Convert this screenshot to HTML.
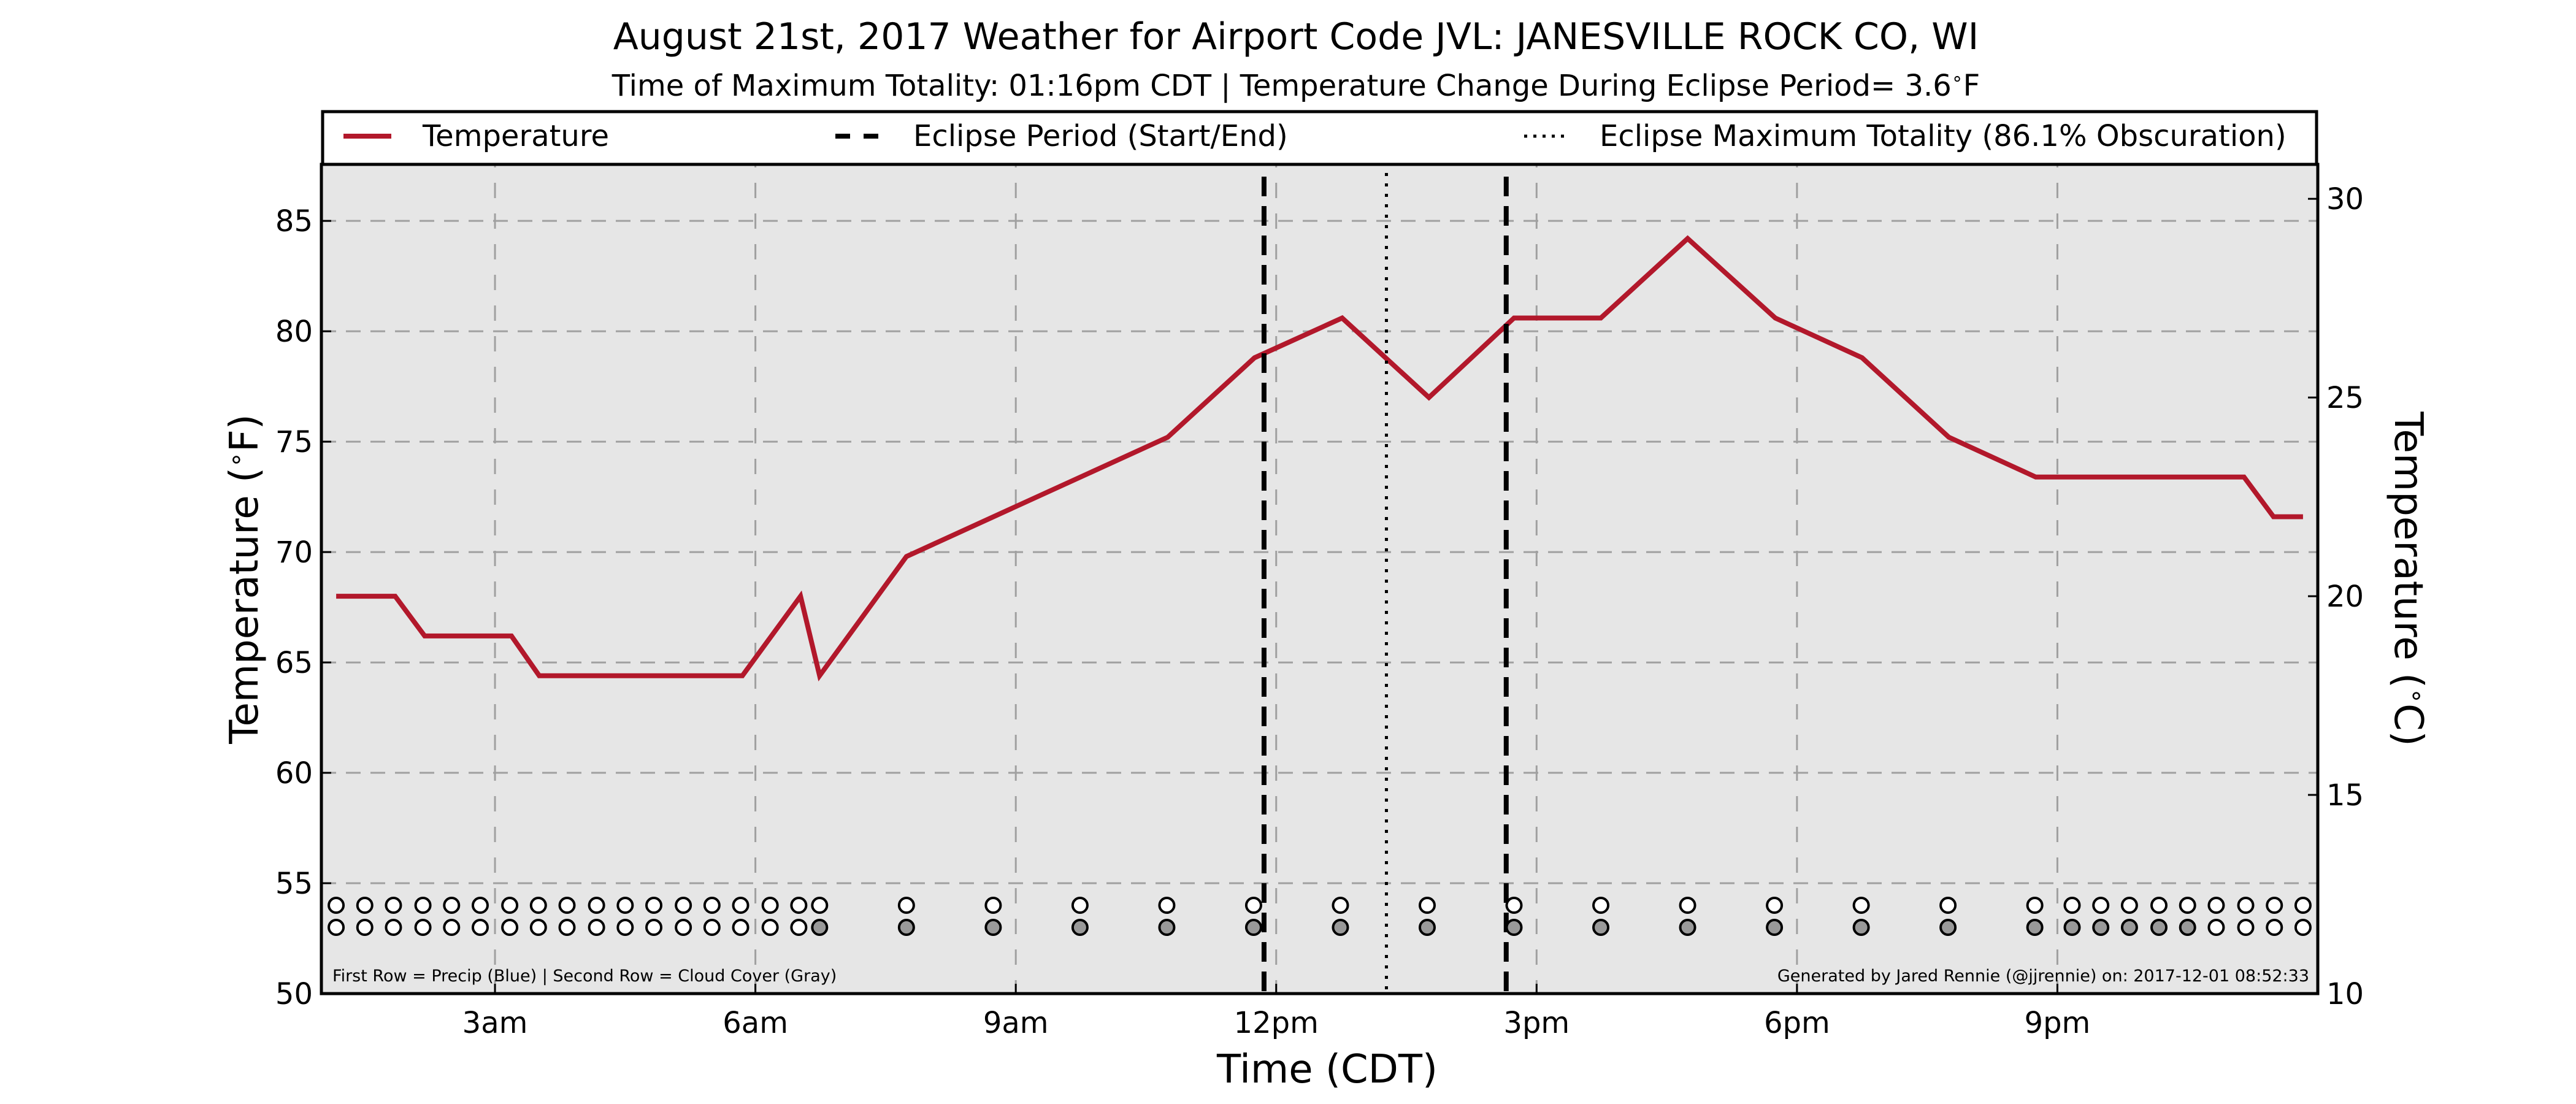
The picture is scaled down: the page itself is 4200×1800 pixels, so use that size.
<!DOCTYPE html>
<html><head><meta charset="utf-8"><style>
html,body{margin:0;padding:0;background:#fff;}
svg{display:block;font-family:"DejaVu Sans","Liberation Sans",sans-serif;}
</style></head><body>
<svg id="chart" xmlns="http://www.w3.org/2000/svg" width="4200" height="1800" viewBox="0 0 4200 1800">
<rect width="4200" height="1800" fill="#fff"/>
<text x="2113" y="80" font-size="60" text-anchor="middle">August 21st, 2017 Weather for Airport Code JVL: JANESVILLE ROCK CO, WI</text>
<text x="2113" y="156" font-size="48" text-anchor="middle">Time of Maximum Totality: 01:16pm CDT | Temperature Change During Eclipse Period= 3.6<tspan font-size="30" dy="-18">∘</tspan><tspan dy="18">F</tspan></text>
<g id="legend">
<rect x="526" y="182" width="3251" height="86" fill="#fff" stroke="#000" stroke-width="5"/>
<line x1="560" y1="222" x2="638" y2="222" stroke="#b2182b" stroke-width="8"/>
<text x="689" y="238" font-size="48">Temperature</text>
<line x1="1362" y1="222" x2="1432" y2="222" stroke="#000" stroke-width="8" stroke-dasharray="24,22"/>
<text x="1489" y="238" font-size="48">Eclipse Period (Start/End)</text>
<line x1="2485" y1="222" x2="2557" y2="222" stroke="#000" stroke-width="5" stroke-dasharray="5,10"/>
<text x="2608" y="238" font-size="48">Eclipse Maximum Totality (86.1% Obscuration)</text>
</g>
<g id="plot"></g>
</svg>
<script>
const obsHours=[11.75,15.75,16.75,18.75,19.75,20.75,21.75,22.75,23.75];
const tempPtHours=[1.17,1.85,2.19,3.19,3.51,5.85,6.52,6.74,7.74,10.75,11.75,12.76,13.76,14.74,15.74,16.74,17.75,18.75,19.75,20.75,23.15,23.49,23.83];
const tempF=[68,68,66.2,66.2,64.4,64.4,68,64.4,69.8,75.2,78.8,80.6,77,80.6,80.6,84.2,80.6,78.8,75.2,73.4,73.4,71.6,71.6];
const circleHours=[1.17,1.5,1.83,2.17,2.5,2.83,3.17,3.5,3.83,4.17,4.5,4.83,5.17,5.5,5.83,6.17,6.5,6.74,7.74,8.74,9.74,10.74,11.74,12.74,13.74,14.74,15.74,16.74,17.74,18.74,19.74,20.74,21.17,21.5,21.83,22.17,22.5,22.83,23.17,23.5,23.83];
const cloudGray=[0,0,0,0,0,0,0,0,0,0,0,0,0,0,0,0,0,1,1,1,1,1,1,1,1,1,1,1,1,1,1,1,1,1,1,1,1,0,0,0,0];
const precip=[0,0,0,0,0,0,0,0,0,0,0,0,0,0,0,0,0,0,0,0,0,0,0,0,0,0,0,0,0,0,0,0,0,0,0,0,0,0,0,0,0];
const xTickHours=[3,6,9,12,15,18,21];
const xTickLabels=["3am","6am","9am","12pm","3pm","6pm","9pm"];
const yTicksF=[50,55,60,65,70,75,80,85];
const yTicksC=[10,15,20,25,30];
const eclipseStart=11.86, eclipseEnd=14.65, eclipseMax=13.27;

const X0=524,X1=3779,Y0=268,Y1=1620;
const hMin=1,hMax=24,fMin=50,fMax=87.56;
const xs=h=>X0+(h-hMin)/(hMax-hMin)*(X1-X0);
const ys=f=>Y1-(f-fMin)/(fMax-fMin)*(Y1-Y0);
const ysC=c=>ys(c*1.8+32);
const NS="http://www.w3.org/2000/svg";
const g=document.getElementById('plot');
function mk(t,a,p){const e=document.createElementNS(NS,t);for(const k in a)e.setAttribute(k,a[k]);(p||g).appendChild(e);return e;}

const bg=mk('rect',{x:X0,y:Y0,width:X1-X0,height:Y1-Y0,fill:'#e6e6e6'});



yTicksF.forEach(f=>{
 if(f>fMin){const l=mk('line',{x1:X0,x2:X1,y1:ys(f),y2:ys(f),stroke:'#a0a0a0','stroke-width':3,'stroke-dasharray':'24,16'});
 
 }
 const tk=mk('line',{x1:X0,x2:X0+16,y1:ys(f),y2:ys(f),stroke:'#000','stroke-width':3});
 
 
 const t=mk('text',{x:X0-14,y:ys(f)+17,'font-size':48,'text-anchor':'end'});t.textContent=f;
 
 
});
yTicksC.forEach(c=>{
 const tk=mk('line',{x1:X1-16,x2:X1,y1:ysC(c),y2:ysC(c),stroke:'#000','stroke-width':3});
 
 
 const t=mk('text',{x:X1+14,y:ysC(c)+17,'font-size':48});t.textContent=c;
 
 
});
xTickHours.forEach((h,i)=>{
 const l=mk('line',{x1:xs(h),x2:xs(h),y1:Y0,y2:Y1,stroke:'#a0a0a0','stroke-width':3,'stroke-dasharray':'25,25','stroke-dashoffset':'-30'});
 
 
 const tk=mk('line',{x1:xs(h),x2:xs(h),y1:Y1-16,y2:Y1,stroke:'#000','stroke-width':3});
 
 
 const t=mk('text',{x:xs(h),y:Y1+64,'font-size':48,'text-anchor':'middle'});t.textContent=xTickLabels[i];
 
 
});

const pts=tempPtHours.map((h,i)=>xs(h).toFixed(1)+','+ys(tempF[i]).toFixed(1)).join(' ');
const tl=mk('polyline',{points:pts,fill:'none',stroke:'#b2182b','stroke-width':8,'stroke-linejoin':'miter'});



[[eclipseStart,'eclipse-start-line'],[eclipseEnd,'eclipse-end-line']].forEach(([h,n])=>{
 const l=mk('line',{x1:xs(h),x2:xs(h),y1:Y0+20,y2:Y1,stroke:'#000','stroke-width':8,'stroke-dasharray':'32,16'});
 
 
});
const ml=mk('line',{x1:xs(eclipseMax),x2:xs(eclipseMax),y1:Y0+14,y2:Y1,stroke:'#000','stroke-width':5,'stroke-dasharray':'5,12'});



circleHours.forEach((h,i)=>{
 const p=mk('circle',{cx:xs(h),cy:ys(54),r:12,fill:precip[i]?'#3b6fd6':'#fff',stroke:'#000','stroke-width':4});
 
 
 const c=mk('circle',{cx:xs(h),cy:ys(53),r:12,fill:cloudGray[i]?'#999':'#fff',stroke:'#000','stroke-width':4});
 
 
});

const n1=mk('text',{x:X0+18,y:Y1-20,'font-size':27});n1.textContent='First Row = Precip (Blue) | Second Row = Cloud Cover (Gray)';


const n2=mk('text',{x:X1-14,y:Y1-20,'font-size':27,'text-anchor':'end'});n2.textContent='Generated by Jared Rennie (@jjrennie) on: 2017-12-01 08:52:33';



const fr=mk('rect',{x:X0,y:Y0,width:X1-X0,height:Y1-Y0,fill:'none',stroke:'#000','stroke-width':5});



const xl=mk('text',{x:2164,y:1765,'font-size':64,'text-anchor':'middle'});xl.textContent='Time (CDT)';


const yl=mk('text',{x:0,y:0,'font-size':64,'text-anchor':'middle',transform:'translate(420,944) rotate(-90)'});yl.innerHTML='Temperature (<tspan font-size="40" dy="-22">∘</tspan><tspan dy="22">F)</tspan>';


const yr=mk('text',{x:0,y:0,'font-size':64,'text-anchor':'middle',transform:'translate(3905,944) rotate(90)'});yr.innerHTML='Temperature (<tspan font-size="40" dy="-22">∘</tspan><tspan dy="22">C)</tspan>';


</script>
</body></html>
